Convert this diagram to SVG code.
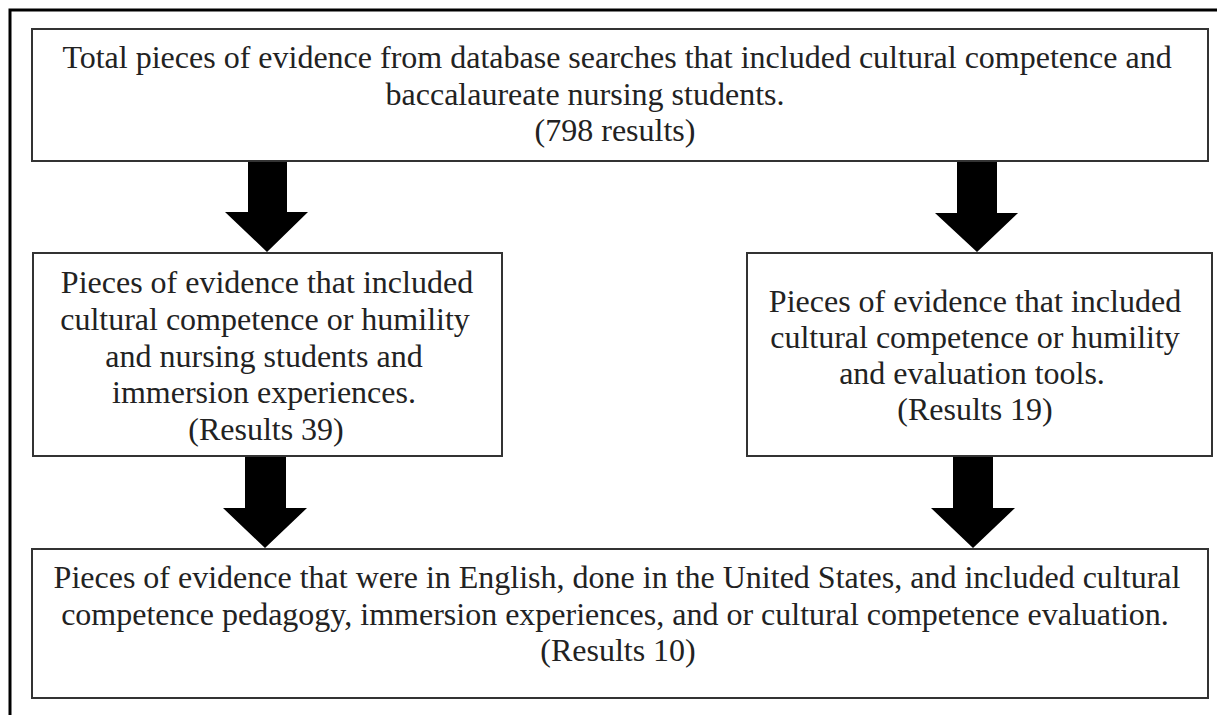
<svg xmlns="http://www.w3.org/2000/svg" width="1217" height="715" viewBox="0 0 1217 715">
<style>
.bg{fill:#ffffff}
.frame{fill:none;stroke:#000;stroke-width:3}
.box{fill:#fff;stroke:#333;stroke-width:2}
.t{font-family:"Liberation Serif","Times New Roman",serif;font-size:32px;fill:#222;text-anchor:middle}
.arrow{fill:#000;stroke:none}
</style>
<rect class="bg" x="0" y="0" width="1217" height="715"/>
<rect class="frame" x="10" y="10" width="1230" height="730"/>
<g id="connectors">
<polygon class="arrow" points="248,161 287,161 287,212 308,212 267,252 225,212 248,212"/>
<polygon class="arrow" points="957,161 997,161 997,213 1018,213 977,252 935,213 957,213"/>
<polygon class="arrow" points="245,456 286,456 286,508 307,508 265,548 223,508 245,508"/>
<polygon class="arrow" points="953,456 993,456 993,508 1015,508 973,548 931,508 953,508"/>
</g>
<g id="node-total">
<rect class="box" x="32" y="29" width="1176" height="132"/>
<text class="t" x="617" y="68">Total pieces of evidence from database searches that included cultural competence and</text>
<text class="t" x="585" y="104.5">baccalaureate nursing students.</text>
<text class="t" x="615" y="141">(798 results)</text>
</g>
<g id="node-immersion">
<rect class="box" x="33" y="253" width="469" height="203"/>
<text class="t" x="267" y="293">Pieces of evidence that included</text>
<text class="t" x="265" y="330">cultural competence or humility</text>
<text class="t" x="264" y="366.5">and nursing students and</text>
<text class="t" x="264" y="403">immersion experiences.</text>
<text class="t" x="266" y="440">(Results 39)</text>
</g>
<g id="node-evaluation">
<rect class="box" x="747" y="253" width="465" height="203"/>
<text class="t" x="975" y="312">Pieces of evidence that included</text>
<text class="t" x="975" y="348">cultural competence or humility</text>
<text class="t" x="972" y="384">and evaluation tools.</text>
<text class="t" x="975" y="420">(Results 19)</text>
</g>
<g id="node-final">
<rect class="box" x="32" y="549" width="1176" height="149"/>
<text class="t" x="617" y="588">Pieces of evidence that were in English, done in the United States, and included cultural</text>
<text class="t" x="615" y="625">competence pedagogy, immersion experiences, and or cultural competence evaluation.</text>
<text class="t" x="618" y="661">(Results 10)</text>
</g>
</svg>
